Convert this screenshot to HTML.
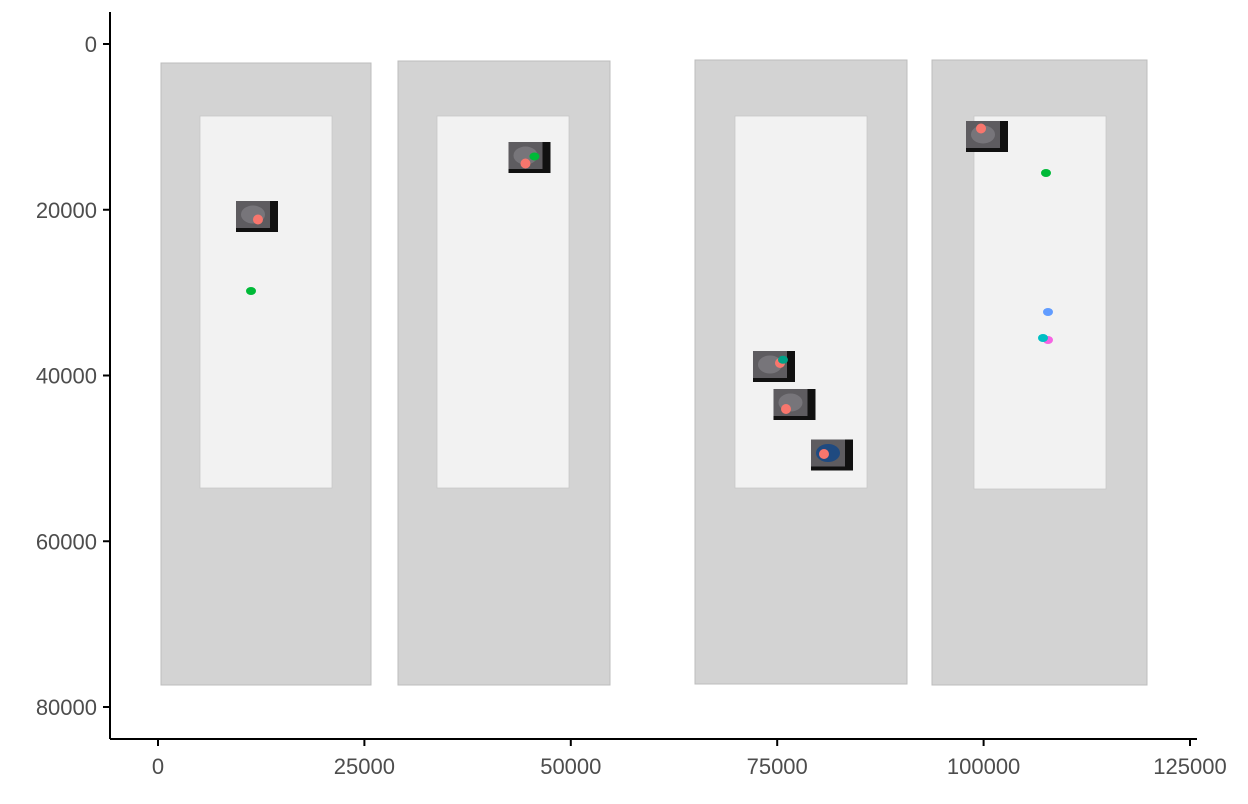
<!DOCTYPE html>
<html><head><meta charset="utf-8"><style>
body{margin:0;background:#fff;}
svg{display:block;font-family:"Liberation Sans",sans-serif;}
</style></head><body>
<svg id="chart" width="1248" height="804"></svg>
<script>
const outerX0=[363,29070,65044,93750];
const outerX1=[25799,54748,90722,119792];
const outerY0=[2293,2051,1931,1931];
const outerY1=[77346,77346,77225,77346];
const innerX0=[5087,33794,69888,98837];
const innerX1=[21076,49782,85877,114826];
const innerY0=[8688,8688,8688,8688];
const innerY1=[53575,53575,53575,53696];
const thumbX=[11991,44998,74612,77095,81638,100412];
const thumbY=[20815,13696,38914,43499,49593,11161];
const dotX=[12110,44510,75339,76066,80669,99686];
const dotY=[21178,14420,38490,44042,49472,10196];
const ptX=[11265,107558,107800,107800,107194,45595,75700];
const ptY=[29804,15566,32338,35716,35475,13570,38100];
const ptColor=["#00ba38","#00ba38","#619cff","#f564e3","#00bfc4","#00ba38","#00a087"];
const xTicks=[0,25000,50000,75000,100000,125000];
const yTicks=[0,20000,40000,60000,80000];

const sx=v=>158+v*0.008256;
const sy=v=>44+v*0.0082875;
const svg=document.getElementById('chart');
const NS='http://www.w3.org/2000/svg';
function mk(t,a){const e=document.createElementNS(NS,t);for(const k in a)e.setAttribute(k,a[k]);svg.appendChild(e);return e;}

for(let i=0;i<outerX0.length;i++){
  const r=mk('rect',{x:sx(outerX0[i]),y:sy(outerY0[i]),width:sx(outerX1[i])-sx(outerX0[i]),height:sy(outerY1[i])-sy(outerY0[i]),fill:'#d3d3d3',stroke:'#bdbdbd','stroke-width':1});
  
  
  const q=mk('rect',{x:sx(innerX0[i]),y:sy(innerY0[i]),width:sx(innerX1[i])-sx(innerX0[i]),height:sy(innerY1[i])-sy(innerY0[i]),fill:'#f2f2f2',stroke:'#c8c8c8','stroke-width':0.8});
  
  
}
for(let i=0;i<thumbX.length;i++){
  const cx=sx(thumbX[i]),cy=sy(thumbY[i]);
  const t=mk('rect',{x:cx-21,y:cy-15.5,width:42,height:31,fill:'#111'});
  
  
  const g=mk('rect',{x:cx-21,y:cy-15.5,width:34,height:27,fill:'#5e5c60'});
  
  
  const h=mk('ellipse',{cx:cx-4,cy:cy-2,rx:12,ry:9,fill:i==4?'#1f4a80':'#77757a'});
  
  
  const d=mk('circle',{cx:sx(dotX[i]),cy:sy(dotY[i]),r:5,fill:'#f8766d'});
  
  
}
for(let i=0;i<ptX.length;i++){
  const p=mk('ellipse',{cx:sx(ptX[i]),cy:sy(ptY[i]),rx:5,ry:4,fill:ptColor[i]});
  
  
}
const ax=mk('line',{x1:110,y1:739,x2:1197,y2:739,stroke:'#000','stroke-width':2});


const ay=mk('line',{x1:110,y1:12,x2:110,y2:739,stroke:'#000','stroke-width':2});


xTicks.forEach(v=>{
  const l=mk('line',{x1:sx(v),y1:739,x2:sx(v),y2:746,stroke:'#000','stroke-width':2});
  
  
  const t=mk('text',{x:sx(v),y:774,'text-anchor':'middle','font-size':22,fill:'#4d4d4d'});
  t.textContent=v;
  
  
});
yTicks.forEach(v=>{
  const l=mk('line',{x1:103,y1:sy(v),x2:110,y2:sy(v),stroke:'#000','stroke-width':2});
  
  
  const t=mk('text',{x:97,y:sy(v)+8,'text-anchor':'end','font-size':22,fill:'#4d4d4d'});
  t.textContent=v;
  
  
});
</script>
</body></html>
